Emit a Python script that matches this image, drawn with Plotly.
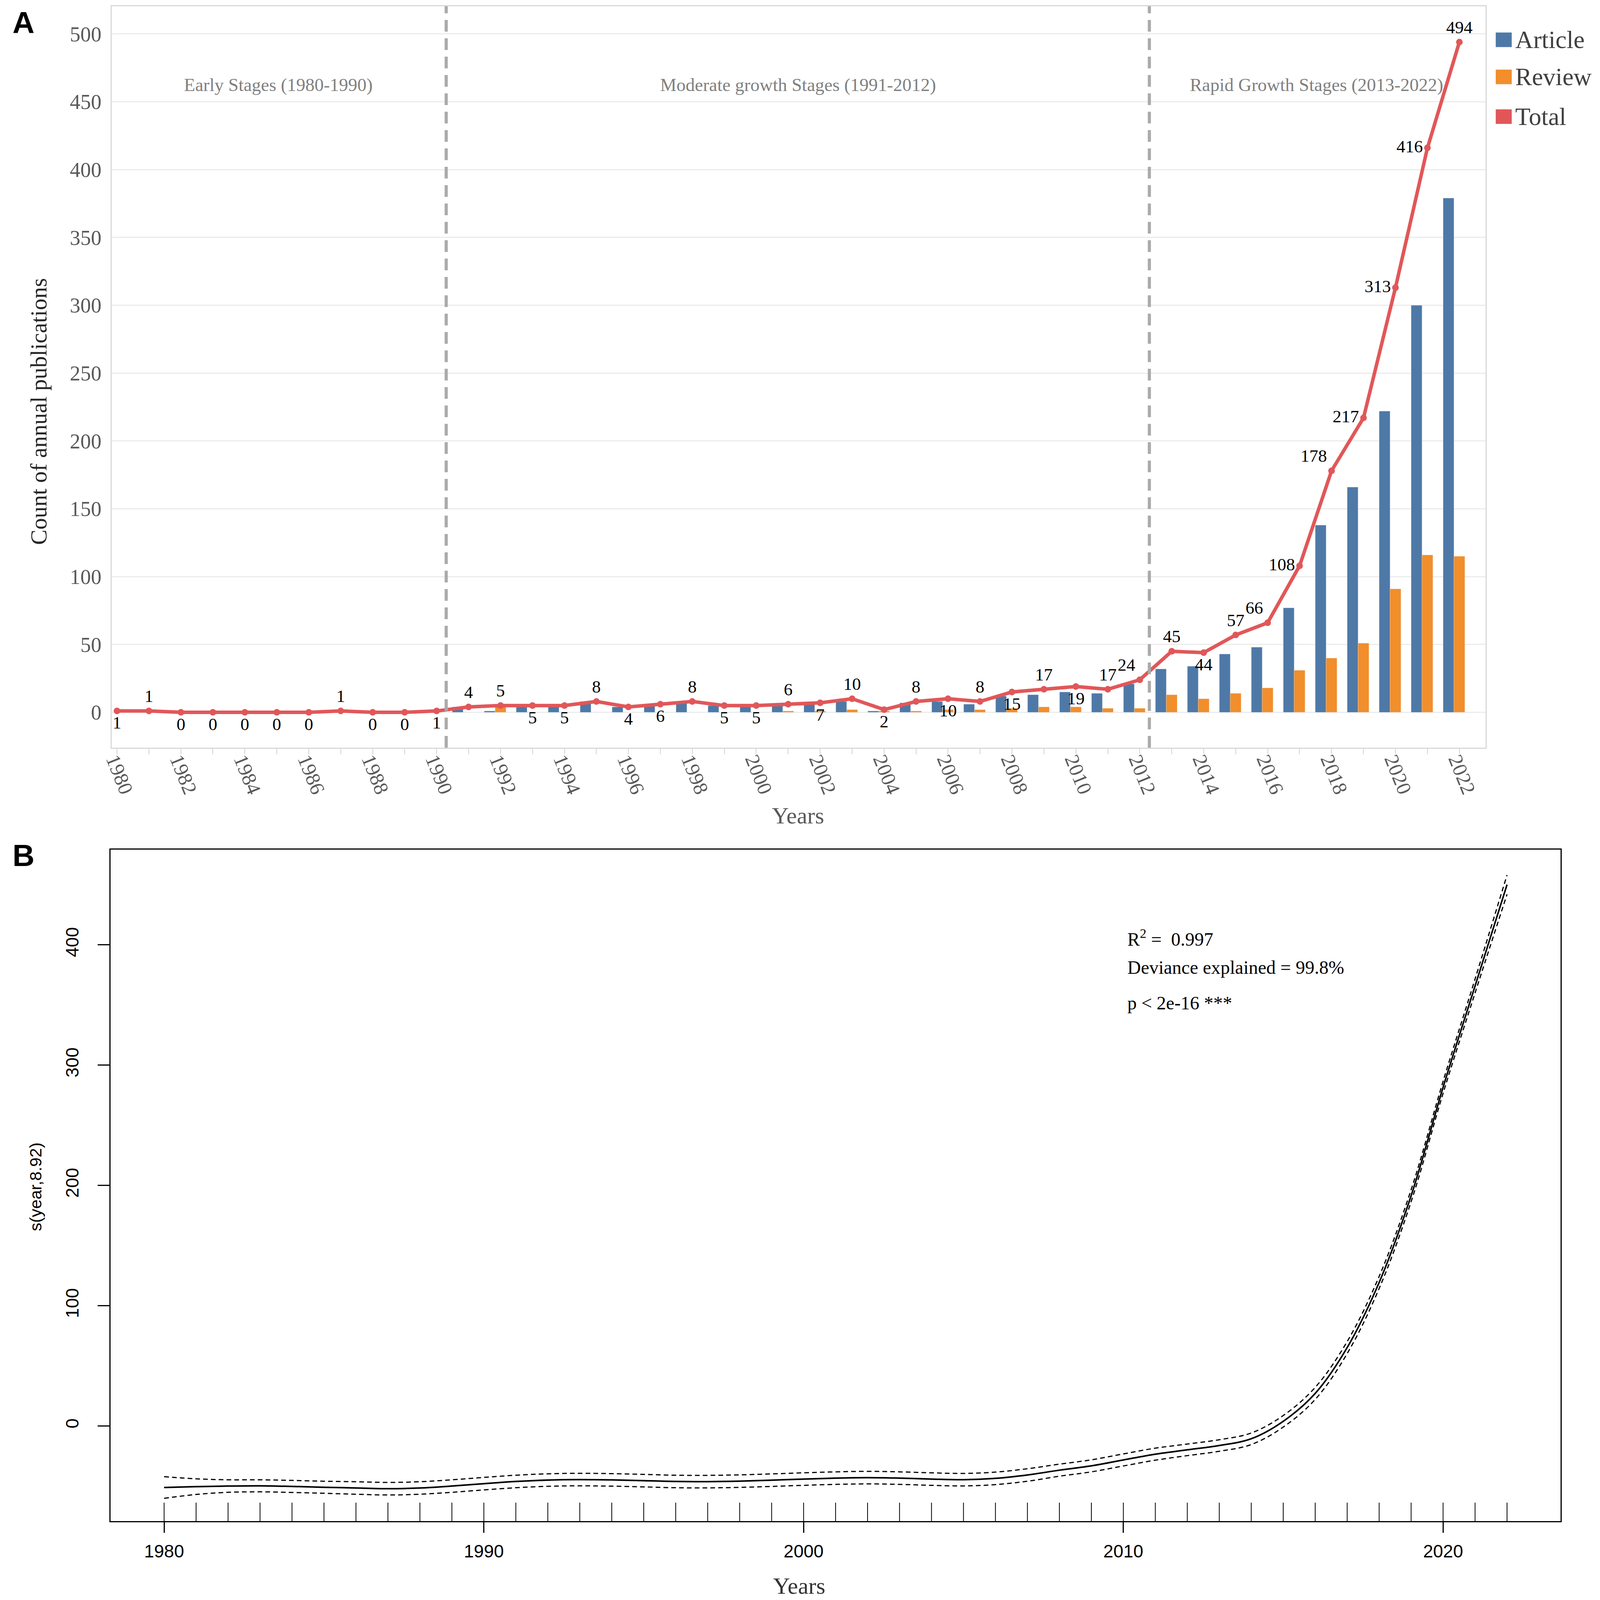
import plotly.graph_objects as go

# Reference geometry (px) is mapped onto the photographed page through paper fractions
REF_W, REF_H = 4107, 4633
VIEW_W, VIEW_H = 4123.5, 4107      # page area that ends up in the photograph
VIEW_X0, VIEW_Y0 = -26.0, 0.0      # page position of the photograph's top-left corner
PAGE_MARGIN = 8                    # default body margin around the plot div
FIG_W, FIG_H = 4091, 4091
SERIF = "Liberation Serif, Times New Roman, serif"
SANS = "Liberation Sans, Arial, sans-serif"
colorMap = {"Article": "#4E79A7", "Review": "#F28E2B", "Total": "#E15759"}

# %% Panel A data: annual publications
years = list(range(1980, 2023))
article = [1, 1, 0, 0, 0, 0, 0, 1, 0, 0, 1,
           4, 1, 5, 5, 8, 4, 6, 8, 5, 5,
           5, 6, 8, 1, 7, 8, 6, 12, 13, 15,
           14, 21, 32, 34, 43, 48, 77, 138, 166, 222, 300, 379]
review = [0, 0, 0, 0, 0, 0, 0, 0, 0, 0, 0,
          0, 4, 0, 0, 0, 0, 0, 0, 0, 0,
          1, 1, 2, 1, 1, 2, 2, 3, 4, 4,
          3, 3, 13, 10, 14, 18, 31, 40, 51, 91, 116, 115]
total = [1, 1, 0, 0, 0, 0, 0, 1, 0, 0, 1,
         4, 5, 5, 5, 8, 4, 6, 8, 5, 5,
         6, 7, 10, 2, 8, 10, 8, 15, 17, 19,
         17, 24, 45, 44, 57, 66, 108, 178, 217, 313, 416, 494]
stageLabels = ["Early Stages (1980-1990)", "Moderate growth Stages (1991-2012)",
               "Rapid Growth Stages (2013-2022)"]
stageBreaks = [1990.3, 2012.3]
xTicksA = list(range(1980, 2023, 2))
yTicksA = [0, 50, 100, 150, 200, 250, 300, 350, 400, 450, 500]

# where each total label sits relative to its point
labelPos = (["bottom center", "top center"] + ["bottom center"] * 5 + ["top center"]
            + ["bottom center"] * 3
            + ["top center", "top center", "bottom center", "bottom center", "top center",
               "bottom center", "bottom center", "top center", "bottom center", "bottom center"]
            + ["top center", "bottom center", "top center", "bottom center", "top center",
               "bottom center", "top center", "bottom center", "top center", "bottom center"]
            + ["top center", "top left", "top center", "bottom center", "top center",
               "top left", "middle left", "top left", "middle left", "middle left",
               "middle left", "top center"])

# %% Panel B data: GAM smooth s(year, 8.92) with CI
fitYears = list(range(1980, 2023))
fit = [-51.0, -50.3, -49.8, -49.6, -50.1, -50.8, -51.4, -52.0, -51.4, -49.8,
       -47.8, -46.0, -44.8, -44.4, -44.7, -45.3, -46.0, -46.1, -45.7, -44.9,
       -44.0, -43.2, -42.8, -43.2, -44.0, -44.5, -43.4, -40.6, -36.6, -33.0,
       -28.1, -23.3, -19.7, -16.1, -10.5, 4.0, 27.2, 65.3, 119.4, 191.5,
       281.6, 365.8, 450.0]
upper = [-42.0, -43.8, -44.6, -44.6, -45.1, -45.8, -46.2, -46.8, -46.2, -44.6,
         -42.6, -40.8, -39.6, -39.2, -39.5, -40.1, -40.8, -40.9, -40.5, -39.7,
         -38.8, -38.0, -37.6, -38.0, -38.8, -39.3, -38.2, -35.4, -31.6, -28.0,
         -23.1, -18.3, -14.9, -11.3, -5.7, 8.8, 32.2, 70.3, 124.4, 196.5,
         286.6, 371.6, 458.0]
lower = [-60.0, -56.8, -55.0, -54.6, -55.1, -55.8, -56.6, -57.2, -56.6, -55.0,
         -53.0, -51.2, -50.0, -49.6, -49.9, -50.5, -51.2, -51.3, -50.9, -50.1,
         -49.2, -48.4, -48.0, -48.4, -49.2, -49.7, -48.6, -45.8, -41.6, -38.0,
         -33.1, -28.3, -24.5, -20.9, -15.3, -0.8, 22.2, 60.3, 114.4, 186.5,
         276.6, 360.0, 442.0]
statLines = ["R<sup>2</sup> =  0.997", "Deviance explained = 99.8%", "p < 2e-16 ***"]
xTicksB = [1980, 1990, 2000, 2010, 2020]
yTicksB = [0, 100, 200, 300, 400]
rugBottom, rugTop = -79, -63.6


def px(x):
    page = VIEW_X0 + x * VIEW_W / REF_W
    return (page - PAGE_MARGIN) / FIG_W


def py(y):
    page = VIEW_Y0 + y * VIEW_H / REF_H
    return 1 - (page - PAGE_MARGIN) / FIG_H


fig = go.Figure()

# %% Panel A traces
fig.add_trace(go.Bar(x=years, y=article, name="Article", marker_color=colorMap["Article"],
                     width=0.34, offset=-0.51, xaxis="x", yaxis="y", showlegend=False))
fig.add_trace(go.Bar(x=years, y=review, name="Review", marker_color=colorMap["Review"],
                     width=0.34, offset=-0.17, xaxis="x", yaxis="y", showlegend=False))
fig.add_trace(go.Scatter(
    x=years, y=total, name="Total", mode="lines+markers+text",
    line=dict(color=colorMap["Total"], width=9),
    marker=dict(color=colorMap["Total"], size=17),
    text=[str(v) for v in total], textposition=labelPos,
    textfont=dict(family=SERIF, size=45, color="black"),
    xaxis="x", yaxis="y", showlegend=False, cliponaxis=False,
))

# %% Panel B traces
rugX, rugY = [], []
for yr in fitYears:
    rugX += [yr, yr, None]
    rugY += [rugBottom, rugTop, None]
fig.add_trace(go.Scatter(x=rugX, y=rugY, mode="lines", line=dict(color="black", width=2),
                         xaxis="x2", yaxis="y2", showlegend=False))
for band in (upper, lower):
    fig.add_trace(go.Scatter(x=fitYears, y=band, mode="lines",
                             line=dict(color="black", width=3, dash="12px,8px", shape="spline"),
                             xaxis="x2", yaxis="y2", showlegend=False))
fig.add_trace(go.Scatter(x=fitYears, y=fit, mode="lines",
                         line=dict(color="black", width=4, shape="spline"),
                         xaxis="x2", yaxis="y2", showlegend=False))

# %% Layout
fig.update_layout(
    width=FIG_W, height=FIG_H, margin=dict(l=0, r=0, t=0, b=0),
    paper_bgcolor="white", plot_bgcolor="white", barmode="overlay",
    xaxis=dict(
        domain=[px(287), px(3812)], range=[1979.83, 2022.82], anchor="y",
        tickmode="array", tickvals=xTicksA,
        tickangle=68, tickfont=dict(family=SERIF, size=52, color="#595959"),
        ticks="outside", ticklen=14, tickwidth=3, tickcolor="#e0e0e0",
        minor=dict(tickmode="linear", tick0=1981, dtick=2, ticks="outside",
                   ticklen=14, tickwidth=3, tickcolor="#e0e0e0", showgrid=False),
        ticklabelstandoff=-36, ticklabelshift=-5,
        showgrid=False, zeroline=False,
        showline=True, mirror=True, linecolor="#d9d9d9", linewidth=3,
    ),
    yaxis=dict(
        domain=[py(2159), py(18)], range=[-26, 520.4], anchor="x",
        tickmode="array", tickvals=yTicksA,
        tickfont=dict(family=SERIF, size=54, color="#595959"),
        ticklabelstandoff=12,
        showgrid=True, gridcolor="#ececec", gridwidth=3, zeroline=False,
        showline=True, mirror=True, linecolor="#d9d9d9", linewidth=3,
    ),
    xaxis2=dict(
        domain=[px(284), px(4004)], range=[1978.32, 2023.67], anchor="y2",
        tickmode="array", tickvals=xTicksB,
        tickfont=dict(family=SANS, size=46, color="black"),
        ticks="outside", ticklen=27, tickwidth=3, tickcolor="black",
        ticklabelstandoff=8,
        showgrid=False, zeroline=False,
        showline=True, mirror=True, linecolor="black", linewidth=3,
    ),
    yaxis2=dict(
        domain=[py(4393), py(2454)], range=[-79, 479], anchor="x2",
        tickmode="array", tickvals=yTicksB, tickangle=-90,
        tickfont=dict(family=SANS, size=46, color="black"),
        ticks="outside", ticklen=30, tickwidth=3, tickcolor="black",
        ticklabelstandoff=30,
        showgrid=False, zeroline=False,
        showline=True, mirror=True, linecolor="black", linewidth=3,
    ),
)

# %% Shapes: stage dividers, dotted zero line, legend keys
shapes = []
for xb in stageBreaks:
    shapes.append(dict(type="line", xref="x", yref="y domain", x0=xb, x1=xb, y0=0, y1=1,
                       line=dict(color="#aaaaaa", width=8, dash="30px,17px")))
shapes.append(dict(type="line", xref="x domain", yref="y", x0=0, x1=1, y0=0, y1=0,
                   line=dict(color="#b5b5b5", width=3, dash="dot"), layer="below"))
legendItems = ["Article", "Review", "Total"]
legendY = [115, 222, 337]
for name, ly in zip(legendItems, legendY):
    shapes.append(dict(type="rect", xref="paper", yref="paper",
                       x0=px(3838), x1=px(3879), y0=py(ly + 21), y1=py(ly - 21),
                       fillcolor=colorMap[name], line=dict(width=0)))
fig.update_layout(shapes=shapes)

# %% Annotations
ann = []
for name, ly in zip(legendItems, legendY):
    ann.append(dict(text=name, xref="paper", yref="paper", x=px(3886), y=py(ly),
                    xanchor="left", yanchor="middle", showarrow=False,
                    font=dict(family=SERIF, size=64, color="#404040")))
stageX = [715, 2048, 3378]
for label, sx in zip(stageLabels, stageX):
    ann.append(dict(text=label, xref="paper", yref="paper", x=px(sx), y=py(245),
                    xanchor="center", yanchor="middle", showarrow=False,
                    font=dict(family=SERIF, size=47, color="#808080")))
ann.append(dict(text="Count of annual publications", xref="paper", yref="paper",
                x=px(100), y=py(1188), textangle=-90, showarrow=False,
                xanchor="center", yanchor="middle",
                font=dict(family=SERIF, size=59, color="#262626")))
ann.append(dict(text="Years", xref="paper", yref="paper", x=px(2048), y=py(2355),
                showarrow=False, xanchor="center", yanchor="middle",
                font=dict(family=SERIF, size=60, color="#595959")))
ann.append(dict(text="s(year,8.92)", xref="paper", yref="paper", x=px(92), y=py(3428),
                textangle=-90, showarrow=False, xanchor="center", yanchor="middle",
                font=dict(family=SANS, size=43, color="black")))
ann.append(dict(text="Years", xref="paper", yref="paper", x=px(2051), y=py(4580),
                showarrow=False, xanchor="center", yanchor="middle",
                font=dict(family=SERIF, size=60, color="#333333")))
for line, sy in zip(statLines, [2708, 2794, 2896]):
    ann.append(dict(text=line, xref="paper", yref="paper", x=px(2891), y=py(sy),
                    xanchor="left", yanchor="middle", showarrow=False,
                    font=dict(family=SERIF, size=48, color="black")))
for tag, ty in [("A", 65), ("B", 2470)]:
    ann.append(dict(text="<b>" + tag + "</b>", xref="paper", yref="paper", x=px(61), y=py(ty),
                    xanchor="center", yanchor="middle", showarrow=False,
                    font=dict(family=SANS, size=78, color="black")))
fig.update_layout(annotations=ann)

fig.write_html("out.html")
